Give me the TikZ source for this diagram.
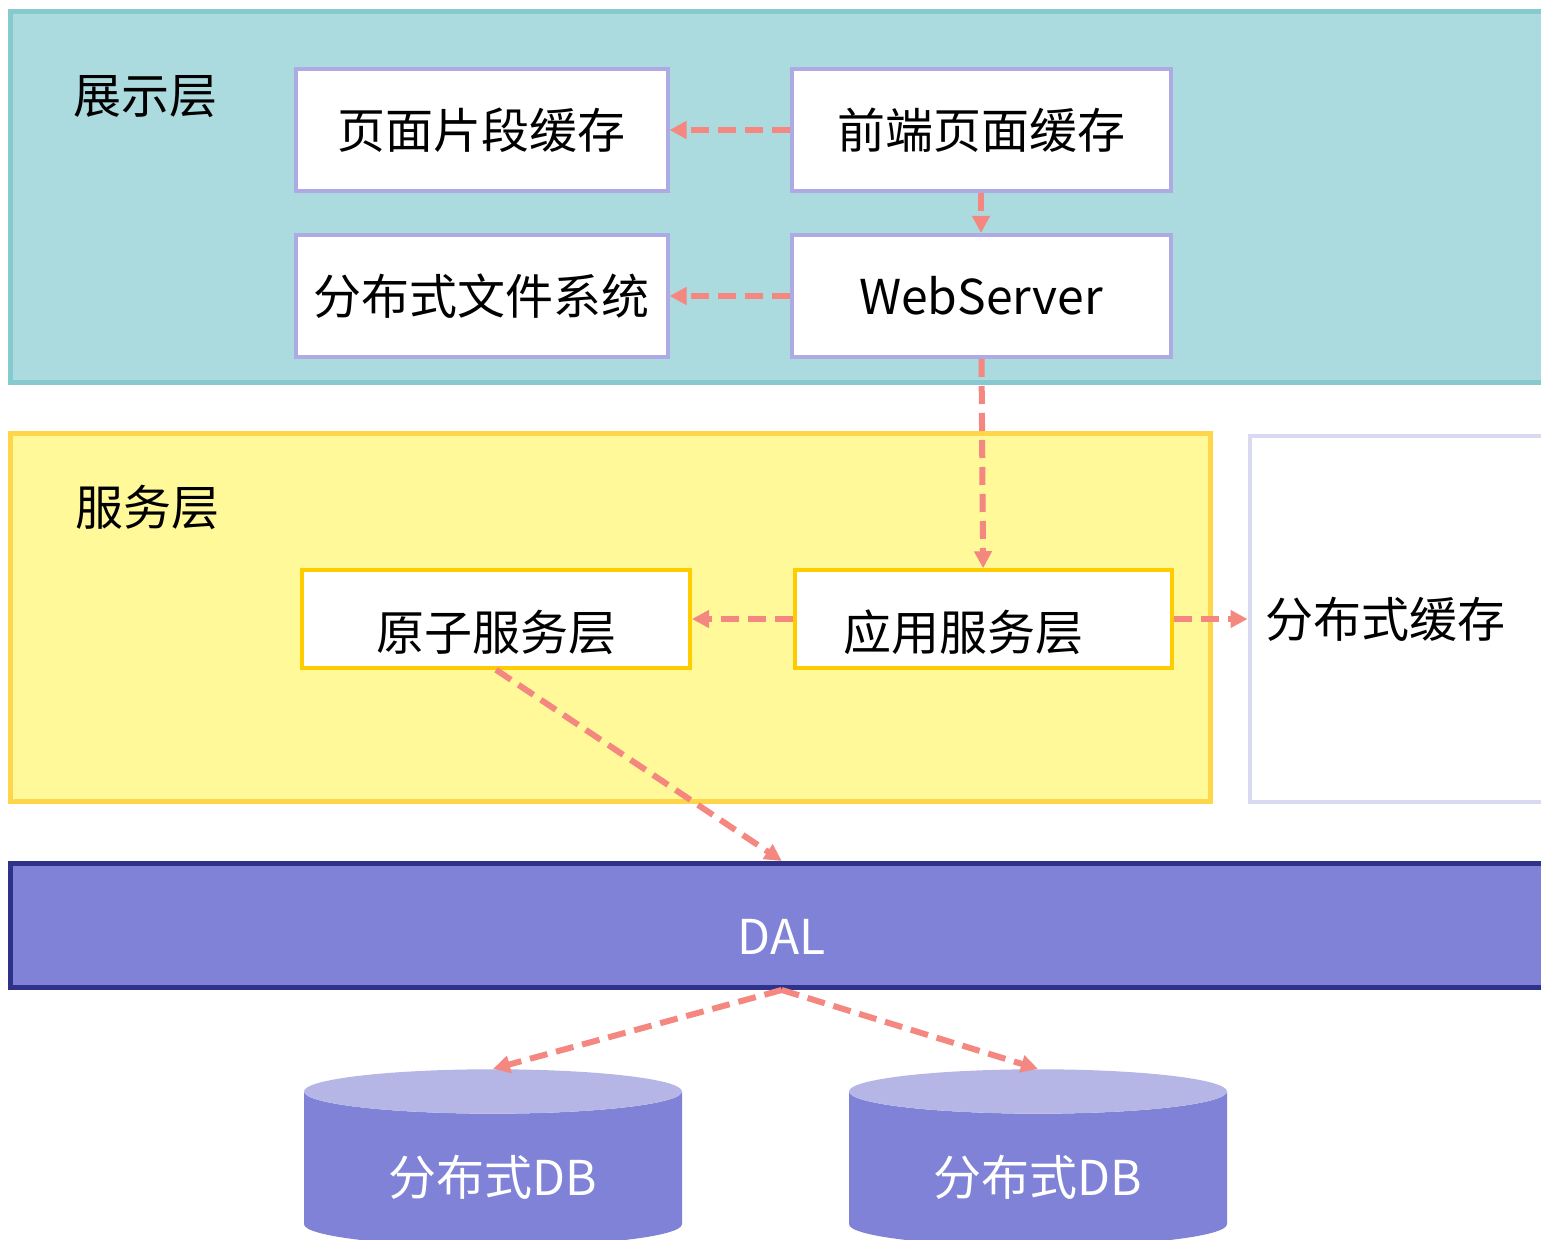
\documentclass[tikz,border=0pt]{standalone}
\usepackage{fontspec}
\setmainfont{Noto Sans CJK SC}
\usepackage{xcolor}
\usetikzlibrary{positioning,arrows.meta,shapes.geometric}
\definecolor{tealfill}{HTML}{ACDBDF}
\definecolor{tealline}{HTML}{86C9CF}
\definecolor{yelfill}{HTML}{FFF99A}
\definecolor{yelline}{HTML}{FFD54A}
\definecolor{boxlav}{HTML}{AEAAE3}
\definecolor{boxgold}{HTML}{FFCC00}
\definecolor{cachelav}{HTML}{D9D9F2}
\definecolor{dalblue}{HTML}{7F82D7}
\definecolor{dalnavy}{HTML}{2E3289}
\definecolor{dbtop}{HTML}{B5B6E6}
\definecolor{flowred}{HTML}{F4877F}
\newcommand{\dropby}[2]{\raisebox{-#1}[\height][\depth]{#2}}
\tikzset{
  line/.style={-{Triangle[length=8.5pt,width=8.5pt]}, draw=flowred, line width=3pt, dash pattern=on 9pt off 4.5pt},
  layer/.style={line width=2.5pt},
  box/.style={draw=boxlav, fill=white, line width=2pt, align=center, minimum height=61pt},
  svcbox/.style={draw=boxgold, fill=white, line width=2pt, align=center, minimum height=48.75pt},
  dbcyl/.style={cylinder, shape border rotate=90, aspect=0.2, cylinder uses custom fill,
    cylinder body fill=dalblue, cylinder end fill=dbtop, minimum width=189pt, minimum height=88.5pt, text=white}
}

\begin{document}
\begin{tikzpicture}[x=0.5pt, y=-0.5pt, node distance=20pt, font=\fontsize{24pt}{28pt}\selectfont]
  \useasboundingbox (0,0) rectangle (1541,1240);
  % Layers
  \draw[layer, draw=tealline, fill=tealfill] (10.5,12) rectangle (1560,383);
  \draw[layer, draw=yelline, fill=yelfill] (10.5,434) rectangle (1210.5,801);
  \node (showlbl) at (145,97) {展示层};
  \node (svclbl) at (147,507) {服务层};

  % Presentation layer
  \node[box, minimum width=186pt] (pagecache) at (481.5,130) {页面片段缓存};
  \node[box, minimum width=189.5pt, right=60pt of pagecache] (frontcache) {前端页面缓存};
  \node[box, minimum width=186pt, below=20pt of pagecache] (dfs) {分布式文件系统};
  \node[box, minimum width=189.5pt, below=20pt of frontcache] (websrv) {WebServer};

  % Service layer
  \node[svcbox, minimum width=194pt] (atomsvc) at (496,619) {\dropby{6.5pt}{原子服务层}};
  \node[svcbox, minimum width=188.5pt, right=50.5pt of atomsvc] (appsvc) {\dropby{6.5pt}{\hspace*{-10pt}应用服务层\hspace*{10pt}}};
  \node[draw=cachelav, fill=white, line width=2pt, anchor=west, minimum width=155pt, minimum height=183pt,
    text width=139pt, align=left, inner xsep=8pt] (dcache) at (1247.5,619) {分布式缓存};

  % DAL and databases
  \node[draw=dalnavy, fill=dalblue, line width=2.5pt, minimum width=771.25pt, minimum height=62pt, text=white] (dal) at (781.75,925.5) {\dropby{5.75pt}{DAL}};
  \node[dbcyl] (db1) at (493,1172) {\dropby{2.5pt}{分布式DB}};
  \node[dbcyl] (db2) at (1038,1172) {\dropby{2.5pt}{分布式DB}};

  % Connections
  \draw[line] (frontcache) -- (pagecache);
  \draw[line] (frontcache) -- (websrv);
  \draw[line] (websrv) -- (dfs);
  \draw[line] (websrv) -- (appsvc);
  \draw[line] (appsvc) -- (atomsvc);
  \draw[line] (appsvc) -- (dcache);
  \draw[line] (atomsvc.south) -- (dal.north);
  \draw[line] (dal.south) -- (db1.north);
  \draw[line] (dal.south) -- (db2.north);
\end{tikzpicture}
\end{document}
